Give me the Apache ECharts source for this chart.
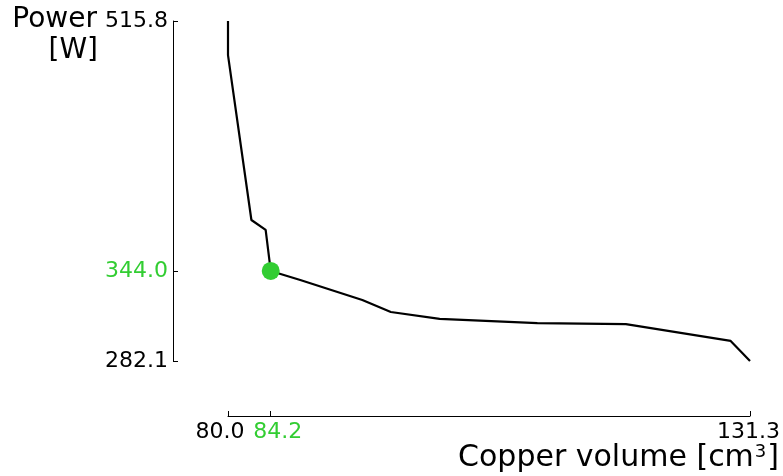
<!DOCTYPE html>
<html>
<head>
<meta charset="utf-8">
<script src="https://cdn.jsdelivr.net/npm/echarts@6/dist/echarts.min.js"></script>
<style>
  html, body { margin: 0; padding: 0; background: #fff; }
  #chart { width: 783px; height: 476px; }
</style>
</head>
<body>
<div id="chart"></div>
<script>
// Pareto front: copper volume vs. power loss
const copperVolume = [80.0, 80.0, 82.3, 83.7, 84.2, 87.1, 93.2, 96.0, 100.8, 110.4, 119.1, 129.4, 131.3];
const powerLoss    = [515.8, 492.4, 379.0, 372.2, 344.0, 337.8, 324.0, 315.8, 311.0, 308.2, 307.5, 295.9, 282.1];
const chosenIndex = 4;

const xTicks = [80.0, 84.2, 131.3];
const yTicks = [282.1, 344.0, 515.8];
const xMin = 80.0, xMax = 131.3;
const yMin = 282.1, yMax = 515.8;

const GREEN = '#32cd32';
const FONT = 'DejaVu Sans';
const TICK_SIZE = 22;

const curve = copperVolume.map((v, i) => [v, powerLoss[i]]);
const chosen = [[copperVolume[chosenIndex], powerLoss[chosenIndex]]];

const chart = echarts.init(document.getElementById('chart'), null, { renderer: 'canvas' });
chart.setOption({
  animation: false,
  backgroundColor: '#ffffff',
  grid: { left: 228, right: 32, top: 21, bottom: 115 },
  xAxis: {
    type: 'value',
    min: xMin, max: xMax,
    offset: 55,
    splitLine: { show: false },
    axisLine: { show: true, lineStyle: { color: '#000', width: 1 } },
    axisTick: { show: true, inside: true, length: 5, customValues: xTicks, lineStyle: { color: '#000', width: 1 } },
    axisLabel: {
      customValues: xTicks,
      margin: 5,
      fontFamily: FONT, fontSize: TICK_SIZE, color: '#000',
      formatter: (v) => {
        const t = v.toFixed(1);
        if (Math.abs(v - xTicks[0]) < 1e-6) return '{l|' + t + '}';
        if (Math.abs(v - xTicks[1]) < 1e-6) return '{g|' + t + '}';
        return '{n|' + t + '}';
      },
      rich: {
        l: { fontFamily: FONT, fontSize: TICK_SIZE, color: '#000', padding: [0, 16, 0, 0] },
        g: { fontFamily: FONT, fontSize: TICK_SIZE, color: GREEN, padding: [0, 0, 0, 14] },
        n: { fontFamily: FONT, fontSize: TICK_SIZE, color: '#000', padding: [0, 3, 0, 0] }
      }
    }
  },
  yAxis: {
    type: 'value',
    min: yMin, max: yMax,
    offset: 55,
    splitLine: { show: false },
    axisLine: { show: true, lineStyle: { color: '#000', width: 1 } },
    axisTick: { show: true, inside: true, length: 5, customValues: yTicks, lineStyle: { color: '#000', width: 1 } },
    axisLabel: {
      customValues: yTicks,
      margin: 5,
      fontFamily: FONT, fontSize: TICK_SIZE, color: '#000',
      formatter: (v) => {
        const t = v.toFixed(1);
        return Math.abs(v - yTicks[1]) < 1e-6 ? '{g|' + t + '}' : '{n|' + t + '}';
      },
      rich: {
        g: { fontFamily: FONT, fontSize: TICK_SIZE, color: GREEN },
        n: { fontFamily: FONT, fontSize: TICK_SIZE, color: '#000' }
      }
    }
  },
  graphic: [
    // y-axis title, two right-aligned lines
    {
      type: 'text', right: 686, top: 6,
      style: { text: 'Power', fontFamily: FONT, fontSize: 28, fill: '#000' }
    },
    {
      type: 'text', right: 685, top: 37,
      style: { text: '[W]', fontFamily: FONT, fontSize: 28, fill: '#000' }
    },
    // x-axis title
    {
      type: 'text', right: 4, top: 443,
      style: {
        text: 'Copper volume [cm{s|3}]',
        fontFamily: FONT, fontSize: 30, fill: '#000',
        rich: { s: { fontFamily: FONT, fontSize: 18, fill: '#000', verticalAlign: 'top', padding: [0, 1, 12, 1] } }
      }
    }
  ],
  series: [
    {
      type: 'line',
      data: curve,
      showSymbol: false,
      lineStyle: { color: '#000', width: 2.2 },
      z: 2
    },
    {
      type: 'scatter',
      data: chosen,
      symbolSize: 18,
      itemStyle: { color: GREEN, opacity: 1 },
      z: 3
    }
  ]
});
</script>
</body>
</html>
